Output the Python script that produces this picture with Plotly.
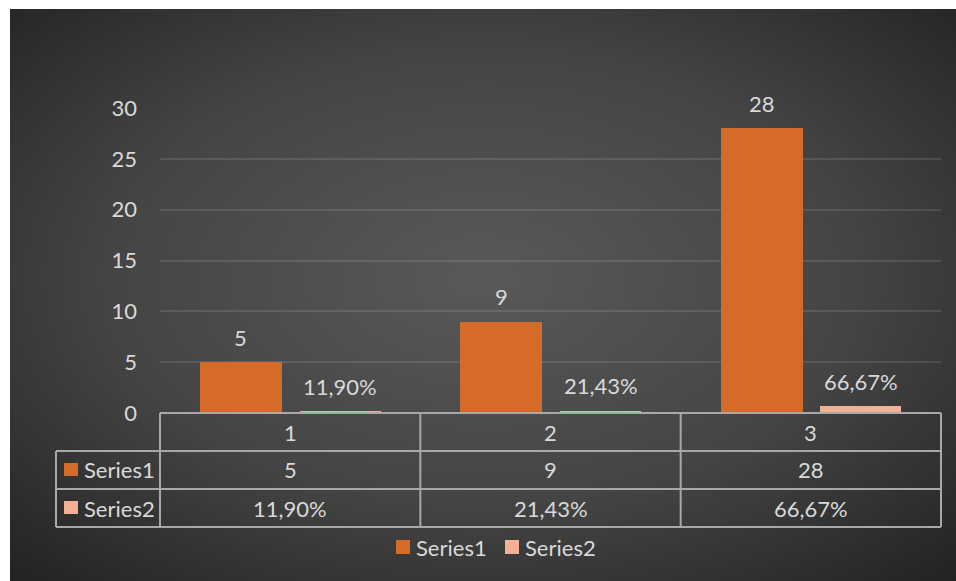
import base64
import plotly.graph_objects as go

# ---- data ----
categories = [1, 2, 3]
category_labels = ["1", "2", "3"]
series_names = ["Series1", "Series2"]
series1 = [5, 9, 28]
series2 = [0.1190, 0.2143, 0.6667]
y_ticks = [0, 5, 10, 15, 20, 25, 30]

def fmt1(v):
    return f"{v:g}"

def fmt2(v):
    return f"{v*100:.2f}%".replace(".", ",")

# ---- styling ----
W, H = 956, 581
L, R, T, B = 160, 15, 108, 168
PW, PH = W - L - R, H - T - B
FONT = "Lato"
TXT = "#d9d9d9"
C1 = "#d66b28"
C2 = "#f4b093"
LINE = "#a8a8a8"
FS = 22

def px(x):
    return (x - L) / PW

def py(y):
    return (H - B - y) / PH

OFF1, WID1 = -0.347, 0.315
OFF2, WID2 = 0.037, 0.311

bg_svg = (
    "<svg xmlns='http://www.w3.org/2000/svg' width='946' height='572' viewBox='0 0 946 572' "
    "preserveAspectRatio='none'><defs><radialGradient id='g' cx='0.5' cy='0.47' r='0.72'>"
    "<stop offset='0' stop-color='#595959'/><stop offset='0.55' stop-color='#444444'/>"
    "<stop offset='1' stop-color='#232323'/></radialGradient></defs>"
    "<rect width='946' height='572' fill='url(#g)'/></svg>"
)
bg_src = "data:image/svg+xml;base64," + base64.b64encode(bg_svg.encode()).decode()

fig = go.Figure()
fig.add_trace(go.Bar(
    x=categories, y=series1, name=series_names[0],
    offset=OFF1, width=WID1, marker=dict(color=C1, line=dict(width=0)),
))
fig.add_trace(go.Bar(
    x=categories, y=series2, name=series_names[1],
    offset=OFF2, width=WID2, marker=dict(color=C2, line=dict(width=0)),
))

font = dict(family=FONT, size=FS, color=TXT)
annotations = []
# data labels above bars
for c, v in zip(categories, series1):
    annotations.append(dict(x=c + OFF1 + WID1 / 2, y=v, xref="x", yref="y", text=fmt1(v),
                            showarrow=False, yshift=25, xanchor="center", yanchor="middle",
                            font=font))
for c, v in zip(categories, series2):
    annotations.append(dict(x=c + OFF2 + WID2 / 2, y=v, xref="x", yref="y", text=fmt2(v),
                            showarrow=False, yshift=25, xanchor="center", yanchor="middle",
                            font=font))

def ann_paper(x, y, text, xanchor="center"):
    annotations.append(dict(x=x, y=y, xref="paper", yref="paper", text=text,
                            showarrow=False, xanchor=xanchor, yanchor="middle", font=font))

# data table
row_y = [432, 470, 508]
ncat = len(categories)
for i, lab in enumerate(category_labels):
    cx = (i + 0.5) / ncat
    ann_paper(cx, py(row_y[0]), lab)
    ann_paper(cx, py(row_y[1]), fmt1(series1[i]))
    ann_paper(cx, py(row_y[2]), fmt2(series2[i]))

shapes = []
def rect(x0, x1, y0, y1, col):
    shapes.append(dict(type="rect", xref="paper", yref="paper",
                       x0=px(x0), x1=px(x1), y0=py(y1), y1=py(y0),
                       fillcolor=col, line=dict(width=0)))

for name, col, ry in zip(series_names, [C1, C2], row_y[1:]):
    ann_paper(px(82), py(ry), name, xanchor="left")
    rect(64, 78, ry - 7, ry + 6, col)

# custom legend
legend_y = 547
legend_x = [396, 505]
for name, col, lx in zip(series_names, [C1, C2], legend_x):
    rect(lx, lx + 14, legend_y - 7, legend_y + 7, col)
    ann_paper(px(lx + 18), py(legend_y), name, xanchor="left")

lw = 2
table_top, r1, r2, r3 = 413, 451, 489, 527
left_x, plot_l, plot_r = 56, 160, 941
def hline(y, x0, x1):
    shapes.append(dict(type="line", xref="paper", yref="paper", x0=px(x0), x1=px(x1),
                       y0=py(y), y1=py(y), line=dict(color=LINE, width=lw)))
def vline(x, y0, y1):
    shapes.append(dict(type="line", xref="paper", yref="paper", x0=px(x), x1=px(x),
                       y0=py(y0), y1=py(y1), line=dict(color=LINE, width=lw)))
hline(table_top, plot_l, plot_r)
hline(r1, left_x, plot_r)
hline(r2, left_x, plot_r)
hline(r3, left_x, plot_r)
vline(left_x, r1, r3)
for i in range(ncat + 1):
    vline(plot_l + i * (plot_r - plot_l) / ncat, table_top, r3)

fig.update_layout(
    width=W, height=H,
    margin=dict(l=L, r=R, t=T, b=B),
    paper_bgcolor="white",
    plot_bgcolor="rgba(0,0,0,0)",
    font=font,
    images=[dict(source=bg_src, xref="paper", yref="paper",
                 x=px(10), y=py(9), sizex=(W - 10) / PW, sizey=(H - 9) / PH,
                 xanchor="left", yanchor="top", sizing="stretch", layer="below")],
    xaxis=dict(range=[0.5, 3.5], showticklabels=False, showgrid=False, zeroline=False,
               showline=False, ticks=""),
    yaxis=dict(range=[0, 30], tickvals=y_ticks, ticktext=[str(t) for t in y_ticks],
               showgrid=True, gridcolor="rgba(255,255,255,0.11)", gridwidth=2,
               zeroline=False, showline=False, ticks="", ticklabelstandoff=22,
               tickfont=font),
    showlegend=False,
    annotations=annotations,
    shapes=shapes,
    bargap=0, bargroupgap=0,
)

fig.write_html("out.html")
